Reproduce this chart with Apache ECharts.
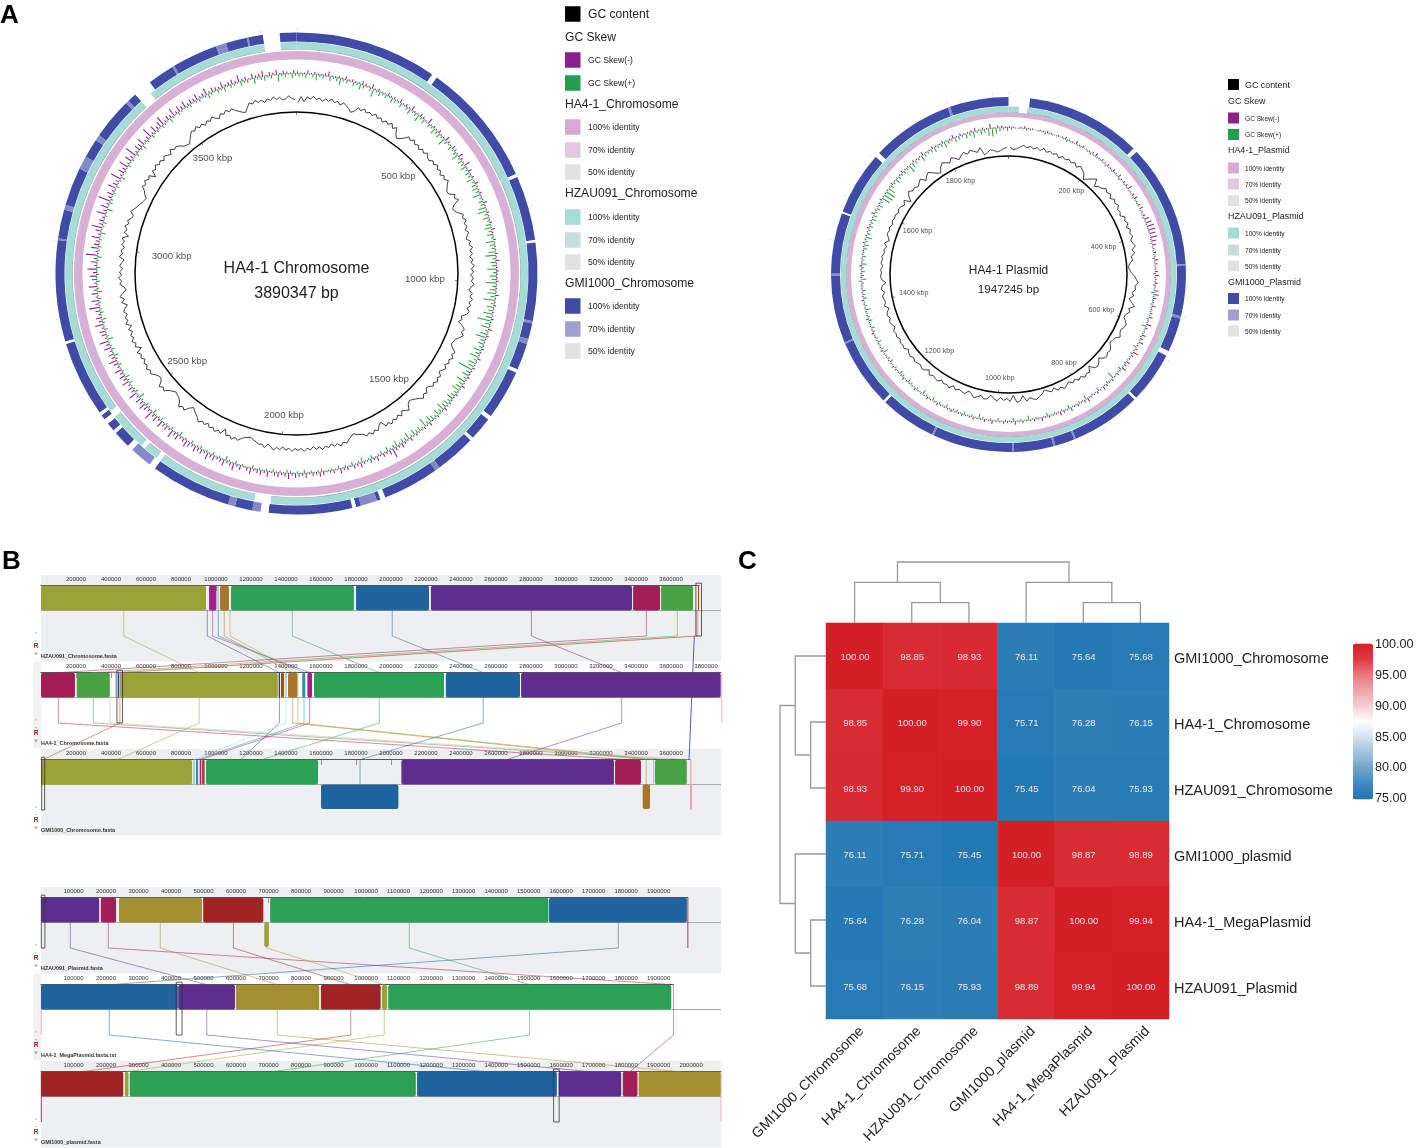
<!DOCTYPE html>
<html><head><meta charset="utf-8">
<style>html,body{margin:0;padding:0;background:#fff}#c{width:1418px;height:1148px}</style>
<script src="https://cdn.jsdelivr.net/npm/echarts@6/dist/echarts.min.js"></script>
</head><body><div id="c"></div>
<script>
// ---------- Panel A data ----------
const chrLengthKbp = 3890.347;
const plasLengthKbp = 1947.245;
const chrRulerTicks = [500,1000,1500,2000,2500,3000,3500];
const plasRulerTicks = [200,400,600,800,1000,1200,1400,1600,1800];
const chrLabelRadii = [141,128.5,140.5,142,140,126,142.5];
const plasLabelRadii = [104.5,99,99.4,104.5,103.8,103.4,96.5,101,105];
// ring breaks: [start deg, end deg, w=absent / p=weak identity]
const chrBlueBreaks = [[34.3,35.6,'w'],[65.6,66.4,'w'],[82,82.6,'w'],[101.4,102,'p'],[105.8,107,'p'],[113.5,114.3,'w'],[126.3,127.3,'w'],[133,133.8,'w'],[143.6,144.8,'p'],[158.4,159.6,'w'],[160.5,164.5,'p'],[165.7,166.6,'w'],[186.7,188.6,'w'],[188.6,190.6,'p'],[194.8,196.5,'p'],[216,217.6,'w'],[217.6,223,'p'],[223,224.4,'w'],[228.6,229.4,'w'],[231.5,232.8,'w'],[234,234.8,'w'],[253,253.6,'w'],[278,278.4,'p'],[285.4,286.6,'p'],[295.8,299,'p'],[303.6,305,'p'],[315,315.8,'p'],[318,322.5,'w'],[329,329.5,'p'],[340.5,343,'p'],[348.1,348.5,'p'],[352,356,'w']];
const chrTealBreaks = [[186.5,190.5,'w'],[216,217.2,'w'],[221,222,'w'],[231.8,233.5,'w'],[318,321,'w'],[352,356,'w']];
const plasBlueBreaks = [[0,7,'w'],[44.8,46.2,'w'],[86.6,87.2,'p'],[103.6,104.4,'p'],[115.6,117.2,'w'],[134,134.8,'w'],[157.7,158.3,'p'],[164.7,165.3,'p'],[178.2,178.8,'p'],[205,205.6,'p'],[224,224.8,'w'],[247,247.6,'p'],[269.7,270.3,'p'],[290.2,290.8,'w'],[311.6,313.2,'w'],[340,340.8,'p']];
const plasTealBreaks = [[3.6,6.5,'w']];
// GC skew / GC content per 1 degree bin (chromosome)
const chrSkewNeg = [2,1,1,3,1,2,1,1,2,4,1,1,2,1,3,1,2,1,1,3,2,1,4,1,2,1,1,3,1,2,
1,3,1,2,1,4,1,1,3,2,1,5,1,2,1,3,1,1,4,2,1,3,2,1,4,2,1,5,1,3,
1,2,1,3,1,1,2,1,1,3,1,1,2,1,1,2,1,3,1,1,2,1,1,1,2,1,3,1,1,2,
1,1,2,1,1,1,3,1,1,2,1,1,1,2,1,1,3,1,2,1,1,1,2,1,1,3,1,1,2,1,
1,2,1,1,3,1,1,2,1,1,2,1,3,1,1,2,1,1,3,1,2,1,1,2,1,3,1,2,4,2,
3,8,4,2,3,1,4,2,3,1,2,4,2,3,1,3,2,4,1,3,2,1,3,4,2,3,1,4,2,3,
4,2,5,3,2,4,3,1,5,2,4,3,2,5,3,1,4,2,6,3,2,5,3,2,4,3,6,2,4,3,
5,2,4,6,3,2,5,3,7,2,4,3,6,2,5,3,8,2,4,6,3,5,2,7,3,4,2,6,3,5,
3,6,2,4,7,3,5,2,6,3,8,2,4,5,2,7,3,5,2,4,9,3,6,2,5,3,7,2,4,6,
3,8,2,5,3,10,2,6,4,3,7,2,5,9,3,4,2,8,3,6,2,11,3,5,2,7,4,3,9,2,
5,3,8,2,6,3,10,2,5,4,7,2,3,9,2,6,3,5,8,2,4,3,7,2,5,3,6,2,4,3,
5,2,3,6,2,4,3,2,5,2,3,4,2,6,2,3,1,4,2,3,5,1,3,2,4,1,3,2,1,3];
const chrSkewPos = [3,2,4,1,3,5,2,3,1,4,2,3,6,2,3,1,4,2,5,3,1,3,7,2,4,2,3,1,4,3,
2,4,1,3,5,2,3,6,2,4,1,3,2,5,3,4,2,7,3,1,4,2,3,6,2,4,3,5,2,4,
3,6,2,4,5,3,7,2,4,3,6,8,3,5,2,4,6,3,5,2,7,4,3,6,9,3,5,4,8,3,
6,4,9,3,5,7,4,10,3,6,4,8,5,12,4,7,3,6,9,4,5,3,7,4,8,3,6,5,13,4,
6,3,8,4,5,7,3,4,6,3,5,4,7,3,5,2,4,6,3,8,2,4,3,5,2,6,3,4,2,5,
3,2,4,1,3,2,1,3,2,1,4,2,1,3,1,2,1,3,1,2,1,1,3,2,1,2,1,3,1,2,
1,2,3,1,2,1,3,1,2,1,2,1,3,1,1,2,1,3,1,2,4,1,2,1,3,1,2,1,3,2,
1,3,1,2,1,4,2,1,3,1,2,1,3,2,1,4,1,2,3,1,2,5,1,3,2,1,3,2,4,1,
2,1,3,1,2,4,1,3,2,1,5,2,1,3,1,2,4,1,3,2,1,2,3,1,4,2,1,3,1,2,
1,3,1,2,4,1,2,3,1,2,1,4,1,2,3,1,2,1,5,1,3,2,1,2,1,3,1,2,4,1,
2,1,3,1,2,1,3,1,2,4,1,2,1,3,1,2,1,3,2,1,4,2,1,3,2,1,2,3,1,2,
3,1,2,4,2,1,3,2,4,1,3,2,1,4,2,3,1,5,2,3,4,2,3,1,6,2,3,1,4,2];
const chrGc = [-5,1,-4,1,-1,2,-1,1,-2,1,-1,2,-1,1,-2,1,-1,-3,-6,-4,1,-1,2,-1,1,-1,2,-1,1,-2,
1,-1,2,-2,1,-5,-8,-6,-3,1,-1,2,-1,1,-2,1,-1,2,-1,-2,1,-1,2,-1,1,-2,1,-1,2,-1,
-3,-5,-4,1,-1,2,-4,-7,-6,-3,1,-1,2,-1,1,-2,1,-1,-3,1,-1,2,-1,1,-2,1,-1,2,-1,1,
-2,1,-1,2,-1,-3,1,-1,2,-1,1,-2,1,-1,-6,-4,-7,-2,1,-1,2,-1,-4,-5,-6,-3,1,-1,2,-1,
1,-2,1,-1,-3,1,-1,2,-1,1,-2,-3,1,-1,2,-1,-3,-5,-6,-4,1,-1,-3,1,-2,1,-1,2,-1,1,
-5,-3,1,-1,2,-1,1,-2,-3,-4,-6,-4,-2,1,-1,2,-1,1,-2,1,-1,2,-1,1,-2,1,-1,2,-1,1,
-1,2,-1,1,-2,1,-1,2,-1,-3,1,-2,-1,-3,-4,-6,-5,-4,-2,1,-1,2,-1,1,-5,1,-1,2,-1,1,
-2,1,-1,2,-1,-3,-5,-7,-4,1,-1,2,-3,-5,-6,-7,-5,-3,1,-1,2,-3,-5,-4,-2,1,-1,2,-1,1,
-2,1,-1,2,-4,1,-1,2,-1,1,-2,1,-3,2,-1,1,-2,1,-1,-4,1,-2,2,-1,-5,-3,1,-1,2,-1,
1,-2,1,-1,-3,2,-1,1,-2,1,-1,2,-4,1,-1,2,-1,1,-2,-3,1,-1,-3,-4,-6,-7,-8,-5,-3,1,
-1,2,-1,1,-5,1,-1,2,-1,1,-2,1,-1,-3,1,-2,-1,-3,-6,-7,-8,-5,-2,1,-1,2,-1,1,-2,1,
-1,2,-1,-3,1,-1,2,-1,1,-2,-4,-6,-7,-3,1,-1,2,-1,1,-2,1,-1,2,-1,1,-2,-1,2,-1,-2];
// per 1.5 degree bin (plasmid)
const plasSkewNeg = [1,1,0,1,2,1,1,0,1,1,2,1,0,1,1,2,1,1,3,1,2,1,1,2,3,1,2,1,2,1,
2,1,3,1,2,2,4,1,2,3,1,2,3,1,2,4,5,6,6,5,6,4,3,1,2,1,3,2,1,2,
3,1,2,1,3,4,2,1,3,1,2,3,1,4,2,1,3,2,4,1,2,5,2,1,3,2,4,1,2,1,
2,1,2,3,1,2,1,1,3,2,1,2,1,3,1,2,3,1,1,2,1,3,1,2,1,1,2,1,3,1,
1,2,1,1,3,1,2,1,1,2,1,1,2,1,1,2,1,1,1,2,1,1,2,1,1,1,2,1,1,1,
2,1,1,1,2,1,1,1,1,2,1,1,1,1,2,1,1,1,2,1,1,1,1,2,1,1,1,1,2,1,
1,1,2,1,1,1,1,1,2,1,1,1,2,1,1,1,3,1,1,1,2,1,1,1,1,2,1,1,1,2,
1,1,1,2,1,1,3,1,1,2,1,1,2,1,1,3,1,2,1,1,2,3,1,2,1,4,1,2,2,1];
const plasSkewPos = [2,1,1,1,2,1,0,1,1,2,1,1,1,0,1,2,1,1,1,1,0,1,2,1,1,1,1,2,1,1,
1,1,2,0,1,1,1,1,2,1,1,0,1,1,2,1,1,1,1,0,1,2,1,1,1,2,1,1,1,2,
1,1,2,1,3,1,1,2,1,1,1,2,1,4,1,1,2,1,1,3,1,2,1,1,2,1,3,1,1,6,
1,2,1,1,3,1,2,1,4,1,2,1,1,3,1,2,1,2,1,3,1,1,2,1,4,1,2,1,3,1,
2,1,3,1,2,1,2,4,1,2,1,3,1,2,2,1,3,1,2,1,3,1,2,4,1,2,1,2,3,1,
2,3,1,2,1,3,2,1,4,2,1,3,2,1,2,3,1,3,2,1,4,2,1,3,2,3,1,2,4,2,
3,2,4,2,3,1,3,4,2,5,3,2,3,2,4,3,2,3,4,2,7,8,8,6,3,2,4,3,2,3,
2,7,4,3,2,5,3,2,3,4,2,3,5,3,2,4,3,2,4,3,5,2,4,3,6,7,5,3,2,3];
const plasGc = [-2,-4,-3,-1,1,-1,1,-1,1,-1,2,-1,1,-1,1,-2,1,-1,1,-1,1,-2,1,-1,-3,-8,-5,-2,1,-6,
-3,-2,1,-1,1,-2,1,-1,1,-2,-1,-3,1,-1,1,-2,1,-1,1,-2,-1,1,-3,-1,-5,-4,-7,-9,-8,-6,
-3,-1,1,-2,-1,-4,-2,-6,-3,1,-4,-2,-5,-6,-3,-1,-2,-4,-3,-1,-5,-6,-7,-4,-2,-3,-1,-2,-6,-3,
-1,-2,-7,-2,-3,-1,-4,-2,-5,-3,-6,-4,-2,-5,-3,-7,-4,-6,-8,-5,-3,-1,-2,-4,-1,-7,-2,-1,-8,-2,
-5,-3,-6,-2,-4,-7,-3,-2,-5,-3,-1,-4,-6,-2,-3,-4,-2,-5,-1,-3,-2,-4,-1,-2,-3,-1,-5,-2,-1,-3,
-2,-1,-3,-1,-2,-4,-1,-2,-1,-3,-1,-2,-1,-4,-2,-1,-3,-1,-2,-5,-1,-3,-2,-1,-4,-1,-2,-6,-2,-1,
-2,-1,-3,-1,-2,-1,-3,-2,-4,-1,-5,-3,-1,-2,-1,-3,-1,-2,-1,-3,-1,-2,-4,-1,-7,-2,1,-2,-1,-3,
-1,1,-4,-1,1,-2,-5,-7,-2,1,-1,-3,1,-1,-4,-1,1,-2,1,-1,-3,1,-7,-5,-3,-4,-6,-5,-3,-2];
// legends
const chrLegendRows = [['GC content','black',14,0],['GC Skew',null,37,0],['GC Skew(-)','skewNeg',60,1],['GC Skew(+)','skewPos',83,1],
['HA4-1_Chromosome',null,104,0],['100% identity','pink1',127,1],['70% identity','pink2',150,1],['50% identity','grey',172,1],
['HZAU091_Chromosome',null,193,0],['100% identity','teal1',217,1],['70% identity','teal2',240,1],['50% identity','grey',262,1],
['GMI1000_Chromosome',null,283,0],['100% identity','blue1',306,1],['70% identity','blue2',329,1],['50% identity','grey',351,1]];
const plasLegendRows = [['GC content','black',84.5,0],['GC Skew',null,101,0],['GC Skew(-)','skewNeg',118,1],['GC Skew(+)','skewPos',134.5,1],
['HA4-1_Plasmid',null,150,0],['100% identity','pink1',168,1],['70% identity','pink2',184,1],['50% identity','grey',200.5,1],
['HZAU091_Plasmid',null,216,0],['100% identity','teal1',233,1],['70% identity','teal2',250,1],['50% identity','grey',266,1],
['GMI1000_Plasmid',null,282,0],['100% identity','blue1',298.5,1],['70% identity','blue2',315,1],['50% identity','grey',331,1]];

// ---------- Panel B data (kbp) ----------
const chrBlocks1 = [[0,943,'olive'],[960,1002,'magenta'],[1006,1017,'pale'],[1023,1074,'brown'],[1086,1788,'green'],[1800,2217,'blue'],[2228,3377,'purple'],[3383,3537,'crimson'],[3543,3726,'green2'],[3754,3760,'redbrown']];
const chrBlocks2 = [[0,194,'crimson'],[204,393,'green2'],[423,431,'pale'],[440,446,'navy'],[451,1353,'olive'],[1358,1366,'navy'],[1371,1389,'redbrown'],[1394,1404,'pale'],[1411,1465,'brown'],[1493,1510,'teal'],[1522,1549,'magenta'],[1560,2303,'green'],[2313,2737,'blue'],[2743,3884,'purple']];
const chrBlocks3 = [[0,5,'redbrown'],[6,863,'olive'],[869,880,'pale'],[886,897,'teal'],[907,916,'magenta'],[920,935,'redbrown'],[943,1583,'green'],[1600,2042,'blue','down'],[2059,3274,'purple'],[3280,3428,'crimson'],[3438,3480,'brown','down'],[3508,3690,'green2'],[3708,3720,'paleRed','down']];
const chrLinks = [[473,904,436,'olive'],[950,1362,1140,'navy'],[981,1535,911,'magenta'],[1011,1400,874,'pale'],[1014,1503,892,'teal'],[1047,1438,3458,'brown'],[1080,1468,3500,'olive'],[1436,1933,1261,'green'],[2007,2527,1823,'blue'],[2802,3318,2661,'purple'],[3459,99,3352,'crimson'],[3636,299,3600,'green2'],[3756,394,3712,'paleRed'],[3748,451,11,'redbrown']];
const chrDirectLinks = [[3733,3703,'navy']];
const chrStubs = [[1,3890,'paleRed'],[2,3714,'paleRed']];
const chrSelections = [[0,3742,3774],[1,434,466],[2,4,21]];
const chrAxisMax = [3760000,3885000,3710000];
const chrTrackNames = ['HZAU091_Chromosome.fasta','HA4-1_Chromosome.fasta','GMI1000_Chromosome.fasta'];
const plasBlocks1 = [[0,179,'purple'],[184,231,'crimson'],[240,495,'gold'],[499,684,'darkred'],[687,701,'olive','down'],[705,1561,'green'],[1563,1987,'blue']];
const plasBlocks2 = [[0,421,'blue'],[422,597,'purple'],[600,856,'gold'],[861,1045,'darkred'],[1049,1065,'olive'],[1068,1939,'green']];
const plasBlocks3 = [[0,253,'darkred'],[258,269,'olive'],[273,1153,'green'],[1157,1587,'blue'],[1593,1785,'purple'],[1790,1835,'crimson'],[1839,2091,'gold']];
const plasLinks = [[90,510,1689,'purple'],[207,1946,1812,'crimson'],[367,727,1966,'gold'],[592,953,128,'darkred'],[694,1056,264,'olive'],[1133,1503,713,'green'],[1776,210,1371,'blue']];
const plasStubs = [[0,1990,'crimson'],[2,2092,'paleRed'],[1,1,'paleRed'],[2,1,'crimson']];
const plasSelections = [[0,1,12],[1,416,434],[2,1577,1594]];
const plasAxisMax = [1990000,1945000,2092000];
const plasTrackNames = ['HZAU091_Plasmid.fasta','HA4-1_MegaPlasmid.fasta.txt','GMI1000_plasmid.fasta'];

// ---------- Panel C data ----------
const hmLabels = ['GMI1000_Chromosome','HA4-1_Chromosome','HZAU091_Chromosome','GMI1000_plasmid','HA4-1_MegaPlasmid','HZAU091_Plasmid'];
const hmRow0 = [100.00,98.85,98.93,76.11,75.64,75.68];
const hmRow1 = [98.85,100.00,99.90,75.71,76.28,76.15];
const hmRow2 = [98.93,99.90,100.00,75.45,76.04,75.93];
const hmRow3 = [76.11,75.71,75.45,100.00,98.87,98.89];
const hmRow4 = [75.64,76.28,76.04,98.87,100.00,99.94];
const hmRow5 = [75.68,76.15,75.93,98.89,99.94,100.00];
// dendrogram merges: [pos a, height a, pos b, height b, merge height]
const topTree = [[1,0,2,0,1],[4,0,5,0,1],[0,0,1.5,1,2],[3,0,4.5,1,2],[0.75,2,3.75,2,3]];
const leftTree = [[1,0,2,0,1],[4,0,5,0,1],[0,0,1.5,1,2],[3,0,4.5,1,2],[0.75,2,3.75,2,3]];

// ---------- styles ----------
const FONT = '"Liberation Sans",Arial,sans-serif';
const C = {black:'#000',skewNeg:'#8b1f8b',skewPos:'#1f9f4f',pink1:'#d9a9d3',pink2:'#e3c8e3',grey:'#e2e2e2',teal1:'#a5dcd6',teal2:'#c3dedc',blue1:'#3f4ba6',blue2:'#a09fd0'};
const LCB = {olive:'#9ba237',magenta:'#a3218e',pale:'#a9d9c3',brown:'#a8752b',green:'#2aa155',blue:'#1f639f',purple:'#5e2e8f',crimson:'#a31e56',green2:'#48a345',navy:'#2b3a9b',redbrown:'#b0451f',teal:'#1f94a8',paleRed:'#eaa8ae',gold:'#a38e30',darkred:'#a12323'};
const G = {top:10.7,mid:35.5,bot:60,link:61,step:87};

const graphic=[], series=[], grid=[], xAxis=[], yAxis=[], polar=[], angleAxis=[], radiusAxis=[];
const txt=(text,x,y,size,fill,o={})=>graphic.push({type:'text',z:o.z||5,silent:true,style:{text,x,y:y+1,fill:fill||'#222',font:`${o.bold?'bold ':''}${size}px ${FONT}`,textAlign:o.align||'left',textVerticalAlign:'middle',align:o.align||'left',verticalAlign:'middle'}});
const rect=(x,y,w,h,fill,z)=>graphic.push({type:'rect',z:z===undefined?1:z,silent:true,shape:{x,y,width:w,height:h},style:{fill}});

// ---------- Panel A ----------
function ring(center,r0,r1,color,breaks){
  const data=[];let pos=0;
  const add=(v,c)=>{if(v>0)data.push({value:v,itemStyle:{color:c}})};
  for(const [a,b,k] of breaks){add(a-pos,color);add(b-a,k==='w'?'#fff':'#8389c9');pos=b;}
  add(360-pos,color);
  series.push({type:'pie',center,radius:[r0,r1],startAngle:90,silent:true,label:{show:false},labelLine:{show:false},emphasis:{disabled:true},data,z:2});
}
function spikes(polarIndex,values,binDeg,len,base,color,sign,phase){
  series.push({type:'custom',coordinateSystem:'polar',polarIndex,silent:true,clip:false,z:3,
    data:values.map((v,i)=>[v,(i+phase)*binDeg*len/360]),
    renderItem(p,api){
      const v=api.value(0),ang=api.value(1);
      const a=api.coord([base-sign*0.5,ang]),b=api.coord([base+sign*v*1.15,ang]);
      return {type:'line',shape:{x1:a[0],y1:a[1],x2:b[0],y2:b[1]},style:{stroke:color,lineWidth:1.05}};
    }});
}
function circular(o){
  const pi=polar.length;
  [[o.R,false],[o.inner,true],[o.R+3,'tick']].forEach(([r,kind],k)=>{
    polar.push({center:o.center,radius:r});
    radiusAxis.push({polarIndex:pi+k,min:0,max:r,show:false});
    angleAxis.push({polarIndex:pi+k,min:0,max:o.len,startAngle:90,
      interval:k===1?o.rulerStep:o.rulerStep/2.5,
      axisLine:{show:k===1,lineStyle:{color:'#000',width:1.5}},
      axisTick:{show:k>0,inside:k===1,length:k===1?3:1,lineStyle:{color:k===1?'#333':'#999',width:0.6}},
      axisLabel:{show:false},splitLine:{show:false}});
  });
  ring(o.center,o.blue[0],o.blue[1],C.blue1,o.blueBreaks);
  ring(o.center,o.teal[0],o.teal[1],C.teal1,o.tealBreaks);
  ring(o.center,o.teal[0]-0.6,o.teal[0],'#6fa79f',o.tealBreaks);
  ring(o.center,o.pink[0],o.pink[1],'#d8afd5',[]);
  spikes(pi,o.neg,o.bin,o.len,o.skewR,'#8b1f8b',1,0.25);
  spikes(pi,o.pos,o.bin,o.len,o.skewR,'#2ea043',-1,0.75);
  series.push({type:'line',coordinateSystem:'polar',polarIndex:pi,silent:true,showSymbol:false,z:3,
    lineStyle:{color:'#111',width:0.8},
    data:o.gc.map((v,i)=>[o.gcR+v,(i+0.5)*o.bin*o.len/360])});
  series.push({type:'scatter',coordinateSystem:'polar',polarIndex:pi,silent:true,symbolSize:1,itemStyle:{color:'rgba(0,0,0,0)'},z:4,
    data:o.ticks.map((t,i)=>[o.labelR[i],t]),
    label:{show:true,position:'inside',color:'#222',fontFamily:FONT,fontSize:o.labelSize,formatter:p=>p.value[1]+' kbp'}});
}
circular({center:[296.5,273.5],R:241,inner:161.5,len:chrLengthKbp,rulerStep:500,ticks:chrRulerTicks,labelR:chrLabelRadii,labelSize:9.7,
  blue:[232,241],teal:[224.5,231.5],pink:[214,222.5],skewR:200,gcR:176,bin:1,
  blueBreaks:chrBlueBreaks,tealBreaks:chrTealBreaks,neg:chrSkewNeg,pos:chrSkewPos,gc:chrGc});
circular({center:[1008.5,274.5],R:178,inner:118.5,len:plasLengthKbp,rulerStep:200,ticks:plasRulerTicks,labelR:plasLabelRadii,labelSize:7.2,
  blue:[168.5,177.5],teal:[162.5,168],pink:[157.5,162],skewR:147,gcR:129,bin:1.5,
  blueBreaks:plasBlueBreaks,tealBreaks:plasTealBreaks,neg:plasSkewNeg,pos:plasSkewPos,gc:plasGc});
txt('HA4-1 Chromosome',296.5,268,16,'#222',{align:'center'});
txt('3890347 bp',296.5,293,16,'#222',{align:'center'});
txt('HA4-1 Plasmid',1008.5,270,11.9,'#222',{align:'center'});
txt('1947245 bp',1008.5,289,11.6,'#222',{align:'center'});
function legend(rows,x,sw,textX,big,small){
  for(const [label,col,y,isSmall] of rows){
    if(col){rect(x,y-sw/2,sw,sw,C[col],2);txt(label,textX,y,isSmall?small:big,'#222');}
    else txt(label,x,y,big,'#222');
  }
}
legend(chrLegendRows,565,15.5,588,12.1,8.6);
legend(plasLegendRows,1228,11,1245,8.9,6.6);

// ---------- Panel B ----------
function mauve(top,blocks,links,direct,stubs,sels,axisMax,names,kbpPerWidth,tickStep){
  const left=41,width=680;
  [0,1,2].forEach(t=>{
    const ty=top+t*G.step;
    if(t!==1) rect(left,ty,width,86.5,'#eeeff1',-1);
    else rect(33,ty,8,86.5,'#f2f2f3',-1);
    rect(left,ty+G.mid-0.6,width,1.2,'#a8a8a8',1);
    const gi=grid.length;
    grid.push({left,top:ty,width:width*axisMax[t]/(kbpPerWidth*1000),height:10,show:false});
    xAxis.push({gridIndex:gi,type:'value',position:'top',min:0,max:axisMax[t],interval:tickStep,
      axisLine:{show:true,lineStyle:{color:'#555',width:1}},axisTick:{show:true,inside:true,length:6,lineStyle:{color:'#555',width:0.6}},
      axisLabel:{inside:true,margin:1.5,fontSize:6,color:'#333',fontFamily:FONT,showMinLabel:false,showMaxLabel:axisMax[t]%tickStep===0,formatter:v=>String(v)},splitLine:{show:false}});
    yAxis.push({gridIndex:gi,type:'value',show:false,min:0,max:1});
    txt(names[t],left,ty+80.5,5.4,'#333',{bold:true});
    const b=ty+G.bot;
    txt('^',36,b-1.5,6,'#aaa',{align:'center'});txt('-',36,b+4,6,'#666',{align:'center'});
    txt('R',36,b+10.7,6.5,'#a02020',{align:'center',bold:true});txt('v',36,b+17.7,6,'#666',{align:'center'});
  });
  const gi=grid.length;
  grid.push({left,top,width,height:260,show:false});
  xAxis.push({gridIndex:gi,type:'value',min:0,max:kbpPerWidth,show:false});
  yAxis.push({gridIndex:gi,type:'value',min:0,max:260,inverse:true,show:false});
  const base={type:'custom',coordinateSystem:'cartesian2d',xAxisIndex:gi,yAxisIndex:gi,silent:true,clip:false};
  series.push({...base,z:2,data:links.map(l=>[l[0],0]),renderItem(p,api){
    const [a,b,c,k]=links[p.dataIndex],s=G.step;
    const pts=[[a,G.mid],[a,G.link],[b,s+G.top],[b,s+G.link],[c,2*s+G.top],[c,2*s+G.mid]].map(q=>api.coord(q));
    return {type:'polyline',shape:{points:pts},style:{stroke:LCB[k],fill:null,lineWidth:0.8,opacity:0.65}};
  }});
  series.push({...base,z:2,data:direct.map(l=>[l[0],0]),renderItem(p,api){
    const [a,c,k]=direct[p.dataIndex];
    return {type:'polyline',shape:{points:[[a,G.link],[c,2*G.step+G.top]].map(q=>api.coord(q))},style:{stroke:LCB[k],fill:null,lineWidth:0.8}};
  }});
  series.push({...base,z:2,data:stubs.map(l=>[l[1],0]),renderItem(p,api){
    const [t,a,k]=stubs[p.dataIndex],o=t*G.step;
    return {type:'polyline',shape:{points:[[a,o+G.top],[a,o+G.link]].map(q=>api.coord(q))},style:{stroke:LCB[k],fill:null,lineWidth:0.9}};
  }});
  blocks.forEach((arr,t)=>series.push({...base,z:3,data:arr.map(b=>[b[0],0]),renderItem(p,api){
    const [s,e,k,lane]=arr[p.dataIndex],o=t*G.step;
    const y0=lane==='down'?G.mid:G.top,y1=lane==='down'?G.bot:G.mid;
    const a=api.coord([s,o+y0]),b=api.coord([e,o+y1]);
    return {type:'rect',shape:{x:a[0],y:a[1],width:b[0]-a[0],height:b[1]-a[1],r:Math.min(2,(b[0]-a[0])/2)},style:{fill:LCB[k]}};
  }}));
  series.push({...base,z:4,data:sels.map(l=>[l[1],0]),renderItem(p,api){
    const [t,s,e]=sels[p.dataIndex],o=t*G.step;
    const a=api.coord([s,o+G.top-2.5]),b=api.coord([e,o+G.link]);
    return {type:'rect',shape:{x:a[0],y:a[1],width:b[0]-a[0],height:b[1]-a[1]},style:{fill:null,stroke:'#333',lineWidth:0.8}};
  }});
}
mauve(575,[chrBlocks1,chrBlocks2,chrBlocks3],chrLinks,chrDirectLinks,chrStubs,chrSelections,chrAxisMax,chrTrackNames,3885.5,200000);
mauve(887,[plasBlocks1,plasBlocks2,plasBlocks3],plasLinks,[],plasStubs,plasSelections,plasAxisMax,plasTrackNames,2092,100000);

// ---------- Panel C ----------
const hmMatrix=[hmRow0,hmRow1,hmRow2,hmRow3,hmRow4,hmRow5];
const hmIdx=grid.length;
grid.push({left:826,top:623,width:343,height:396,show:false});
xAxis.push({gridIndex:hmIdx,type:'category',data:hmLabels,axisLine:{show:false},axisTick:{show:false},splitLine:{show:false},
  axisLabel:{rotate:45,color:'#222',fontFamily:FONT,margin:3,interval:0,formatter:v=>`{a|${v}}`,
    rich:{a:{fontSize:14.2,color:'#222',fontFamily:FONT,padding:[20,0,0,0]}}}});
yAxis.push({gridIndex:hmIdx,type:'category',data:hmLabels,inverse:true,position:'right',axisLine:{show:false},axisTick:{show:false},splitLine:{show:false},
  axisLabel:{color:'#222',fontFamily:FONT,margin:5,interval:0,formatter:v=>`{a|${v}}`,
    rich:{a:{fontSize:14.5,color:'#222',fontFamily:FONT,padding:[5,0,0,0]}}}});
const hmSeriesIndex=series.length;
series.push({type:'heatmap',xAxisIndex:hmIdx,yAxisIndex:hmIdx,silent:true,z:2,
  data:hmMatrix.flatMap((r,y)=>r.map((v,x)=>[x,y,v])),
  label:{show:true,color:'#f6e6e6',fontSize:9.5,fontFamily:FONT,offset:[0.5,1],formatter:p=>p.value[2].toFixed(2)},
  itemStyle:{borderWidth:0}});
const cbIdx=grid.length;
grid.push({left:1353,top:645,width:20,height:153.5,show:false});
xAxis.push({gridIndex:cbIdx,type:'value',show:false,min:0,max:1});
yAxis.push({gridIndex:cbIdx,type:'value',position:'right',min:75,max:100,interval:5,
  axisLine:{show:true,lineStyle:{color:'#333',width:0.8}},axisTick:{show:true,length:3,lineStyle:{color:'#333',width:0.8}},splitLine:{show:false},
  axisLabel:{fontSize:12.6,color:'#222',fontFamily:FONT,margin:2,formatter:v=>v.toFixed(2)}});
function dendro(box,tree,horizontal){
  const gi=grid.length;
  grid.push({...box,show:false});
  const pos={type:'value',min:-0.5,max:5.5,show:false}, h={type:'value',min:0,max:3,show:false};
  xAxis.push({gridIndex:gi,...(horizontal?{...h,inverse:true}:pos)});
  yAxis.push({gridIndex:gi,...(horizontal?{...pos,inverse:true}:h)});
  series.push({type:'custom',coordinateSystem:'cartesian2d',xAxisIndex:gi,yAxisIndex:gi,silent:true,clip:false,z:2,
    data:tree.map(t=>[t[0],t[1]]),renderItem(p,api){
      const [a,ha,b,hb,m]=tree[p.dataIndex];
      const q=horizontal?(u,v)=>[v,u]:(u,v)=>[u,v];
      const pts=[q(a,ha),q(a,m),q(b,m),q(b,hb)].map(c=>api.coord(c));
      return {type:'polyline',shape:{points:pts},style:{stroke:'#9a9a9a',fill:null,lineWidth:1.3}};
    }});
}
dendro({left:826,top:562,width:343,height:61},topTree,false);
dendro({left:780,top:623,width:46,height:396},leftTree,true);

txt('A',0,15,26,'#000',{bold:true});
txt('B',2,561,26,'#000',{bold:true});
txt('C',738,561,26,'#000',{bold:true});

const chart=echarts.init(document.getElementById('c'));
chart.setOption({animation:false,backgroundColor:'#fff',textStyle:{fontFamily:FONT},
  polar,angleAxis,radiusAxis,grid,xAxis,yAxis,series,graphic:{elements:graphic},
  visualMap:{type:'continuous',min:75,max:100,seriesIndex:hmSeriesIndex,calculable:false,show:true,left:1353,top:643.5,itemWidth:20,itemHeight:156,text:null,padding:0,
    inRange:{color:['#1d75b1','#4089bd','#6fa4cc','#a0c3dd','#d3e3ef','#ffffff','#f6cdd0','#efa5a8','#e7787c','#dd3a40','#d51f26']}}
});
</script></body></html>
